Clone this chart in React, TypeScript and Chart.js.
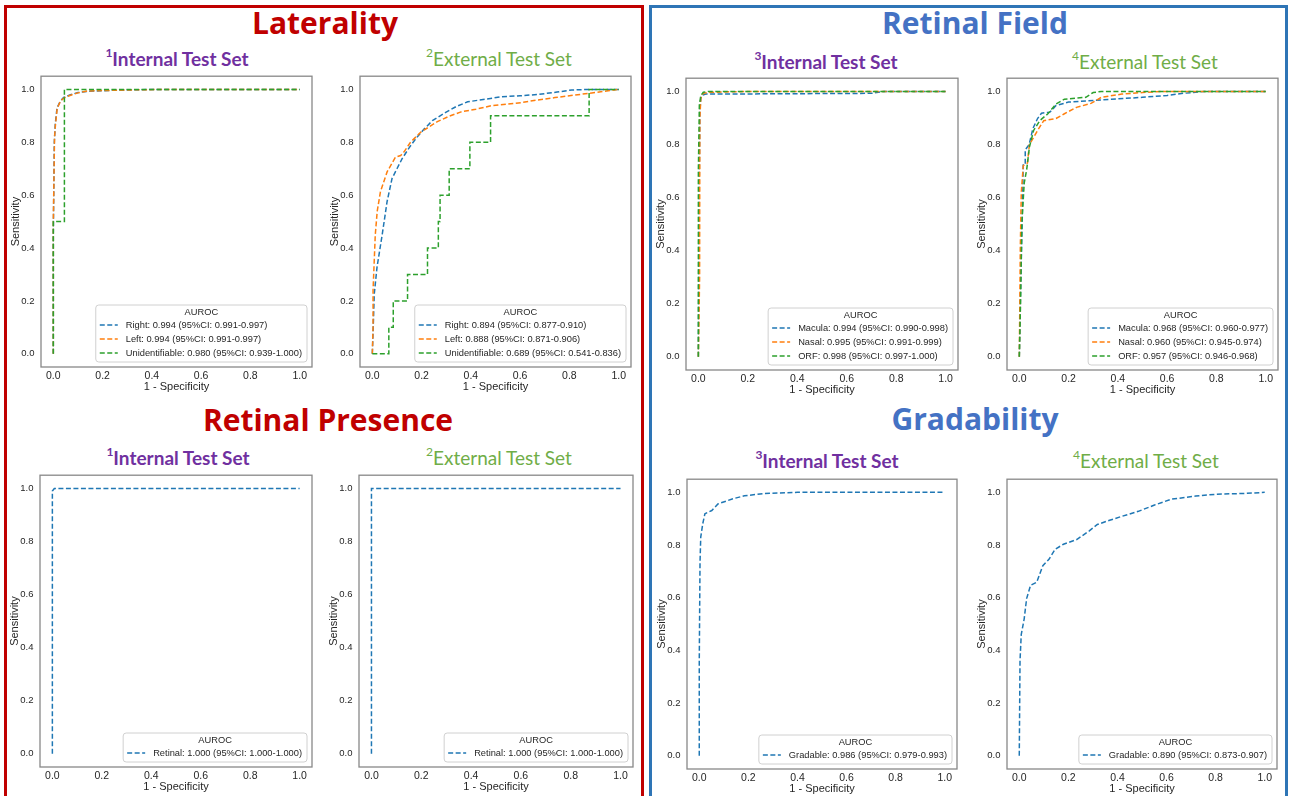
import React, { useEffect, useRef } from 'react';
import { Chart, registerables } from 'chart.js';

Chart.register(...registerables);

// ---------- shared text / ticks ----------
const TICKS = [0, 0.2, 0.4, 0.6, 0.8, 1.0];
const X_TITLE = '1 - Specificity';
const Y_TITLE = 'Sensitivity';
const LEGEND_TITLE = 'AUROC';
const COLORS = ['#1f77b4', '#ff7f0e', '#2ca02c'];

// ---------- Laterality, internal ----------
const latIntLabels = [
  'Right: 0.994 (95%CI: 0.991-0.997)',
  'Left: 0.994 (95%CI: 0.991-0.997)',
  'Unidentifiable: 0.980 (95%CI: 0.939-1.000)',
];
const latIntRight = [[0, 0], [0, 0.45], [0.004, 0.8], [0.008, 0.87], [0.015, 0.93], [0.028, 0.955], [0.042, 0.97], [0.07, 0.98], [0.1, 0.988], [0.14, 0.993], [0.25, 0.997], [0.4, 1.0], [1, 1]];
const latIntLeft = [[0, 0], [0, 0.5], [0.005, 0.82], [0.009, 0.87], [0.016, 0.93], [0.03, 0.957], [0.045, 0.969], [0.076, 0.98], [0.1, 0.987], [0.137, 0.994], [0.3, 0.998], [0.45, 1.0], [1, 1]];
const latIntUnid = [[0, 0], [0, 0.5], [0.045, 0.5], [0.045, 1.0], [1, 1]];

// ---------- Laterality, external ----------
const latExtLabels = [
  'Right: 0.894 (95%CI: 0.877-0.910)',
  'Left: 0.888 (95%CI: 0.871-0.906)',
  'Unidentifiable: 0.689 (95%CI: 0.541-0.836)',
];
const latExtRight = [[0, 0], [0.003, 0.08], [0.008, 0.227], [0.019, 0.327], [0.04, 0.45], [0.06, 0.576], [0.08, 0.663], [0.1, 0.7], [0.121, 0.738], [0.15, 0.78], [0.176, 0.813], [0.21, 0.85], [0.244, 0.882], [0.298, 0.913], [0.34, 0.935], [0.387, 0.953], [0.45, 0.962], [0.523, 0.972], [0.6, 0.976], [0.673, 0.981], [0.75, 0.99], [0.81, 0.998], [0.88, 1.0], [1, 1]];
const latExtLeft = [[0, 0], [0.003, 0.1], [0.003, 0.24], [0.012, 0.45], [0.02, 0.54], [0.033, 0.613], [0.06, 0.688], [0.094, 0.744], [0.115, 0.75], [0.128, 0.763], [0.155, 0.8], [0.196, 0.838], [0.264, 0.878], [0.31, 0.898], [0.36, 0.915], [0.42, 0.925], [0.482, 0.938], [0.605, 0.95], [0.67, 0.96], [0.741, 0.969], [0.877, 0.985], [1, 1]];
const latExtUnid = [[0, 0], [0.067, 0], [0.067, 0.1], [0.085, 0.1], [0.085, 0.2], [0.143, 0.2], [0.143, 0.3], [0.224, 0.3], [0.224, 0.4], [0.268, 0.4], [0.268, 0.5], [0.275, 0.5], [0.275, 0.6], [0.312, 0.6], [0.312, 0.7], [0.396, 0.7], [0.396, 0.8], [0.48, 0.8], [0.48, 0.9], [0.88, 0.9], [0.88, 1.0], [1, 1]];

// ---------- Retinal Field, internal ----------
const rfIntLabels = [
  'Macula: 0.994 (95%CI: 0.990-0.998)',
  'Nasal: 0.995 (95%CI: 0.991-0.999)',
  'ORF: 0.998 (95%CI: 0.997-1.000)',
];
const rfIntMacula = [[0, 0], [0.002, 0.5], [0.006, 0.92], [0.01, 0.975], [0.015, 0.986], [0.03, 0.99], [0.7, 0.993], [0.75, 1.0], [1, 1]];
const rfIntNasal = [[0, 0], [0.005, 0.3], [0.006, 0.9], [0.01, 0.975], [0.02, 0.993], [0.05, 0.997], [0.2, 1.0], [1, 1]];
const rfIntORF = [[0, 0], [0, 0.7], [0.004, 0.95], [0.01, 0.985], [0.02, 0.997], [0.04, 1.0], [1, 1]];

// ---------- Retinal Field, external ----------
const rfExtLabels = [
  'Macula: 0.968 (95%CI: 0.960-0.977)',
  'Nasal: 0.960 (95%CI: 0.945-0.974)',
  'ORF: 0.957 (95%CI: 0.946-0.968)',
];
const rfExtMacula = [[0, 0], [0.004, 0.2], [0.008, 0.36], [0.012, 0.52], [0.016, 0.73], [0.024, 0.73], [0.024, 0.78], [0.04, 0.8], [0.055, 0.86], [0.074, 0.898], [0.09, 0.918], [0.124, 0.922], [0.149, 0.947], [0.2, 0.96], [0.333, 0.968], [0.5, 0.978], [0.6, 0.985], [0.666, 0.993], [0.75, 1.0], [1, 1]];
const rfExtNasal = [[0, 0], [0.002, 0.2], [0.004, 0.41], [0.008, 0.62], [0.016, 0.72], [0.033, 0.73], [0.041, 0.8], [0.06, 0.83], [0.074, 0.853], [0.099, 0.89], [0.149, 0.898], [0.183, 0.916], [0.232, 0.94], [0.291, 0.955], [0.333, 0.978], [0.416, 0.99], [0.5, 0.996], [0.58, 1.0], [1, 1]];
const rfExtORF = [[0, 0], [0.005, 0.2], [0.01, 0.5], [0.02, 0.655], [0.03, 0.706], [0.041, 0.79], [0.058, 0.853], [0.083, 0.89], [0.116, 0.916], [0.149, 0.953], [0.183, 0.971], [0.27, 0.978], [0.3, 0.996], [0.333, 1.0], [1, 1]];

// ---------- Retinal Presence ----------
const rpLabels = ['Retinal: 1.000 (95%CI: 1.000-1.000)'];
const rpIntRetinal = [[0, 0], [0, 0.99], [0.008, 1.0], [1, 1]];
const rpExtRetinal = [[0, 0], [0, 1.0], [1, 1]];

// ---------- Gradability ----------
const gIntLabels = ['Gradable: 0.986 (95%CI: 0.979-0.993)'];
const gExtLabels = ['Gradable: 0.890 (95%CI: 0.873-0.907)'];
const gIntGradable = [[0, 0], [0, 0.36], [0.003, 0.732], [0.006, 0.83], [0.014, 0.88], [0.023, 0.919], [0.051, 0.931], [0.076, 0.956], [0.134, 0.975], [0.184, 0.987], [0.267, 0.996], [0.4, 1.0], [1, 1]];
const gExtGradable = [[0, 0], [0.003, 0.36], [0.008, 0.46], [0.02, 0.52], [0.03, 0.597], [0.046, 0.647], [0.071, 0.659], [0.096, 0.722], [0.121, 0.746], [0.146, 0.784], [0.18, 0.803], [0.234, 0.821], [0.284, 0.853], [0.318, 0.878], [0.368, 0.894], [0.418, 0.909], [0.485, 0.928], [0.551, 0.952], [0.619, 0.974], [0.719, 0.986], [0.803, 0.993], [0.92, 0.996], [1, 1]];

// ---------- headings ----------
const PANEL_TITLES = ['Laterality', 'Retinal Field', 'Retinal Presence', 'Gradability'];
const SUB_INTERNAL = 'Internal Test Set';
const SUB_EXTERNAL = 'External Test Set';

// ---------- layout (positions only) ----------
const FONT_AX = '"Liberation Sans", Arial, sans-serif';
const TEXT_COLOR = '#262626';
const PAD_L = 40;
const PAD_T = 8;
const PAD_R = 8;
const PAD_B = 30;

type Plot = { frame: number[]; series: number[][][]; labels: string[] };

const PLOTS: Plot[] = [
  { frame: [41, 72, 271, 295], series: [latIntRight, latIntLeft, latIntUnid], labels: latIntLabels },
  { frame: [360, 72, 271, 295], series: [latExtRight, latExtLeft, latExtUnid], labels: latExtLabels },
  { frame: [686, 74, 272, 296], series: [rfIntMacula, rfIntNasal, rfIntORF], labels: rfIntLabels },
  { frame: [1007, 74, 271, 296], series: [rfExtMacula, rfExtNasal, rfExtORF], labels: rfExtLabels },
  { frame: [40, 471, 272, 296], series: [rpIntRetinal], labels: rpLabels },
  { frame: [359, 471, 274, 296], series: [rpExtRetinal], labels: rpLabels },
  { frame: [687, 475, 270, 294], series: [gIntGradable], labels: gIntLabels },
  { frame: [1007, 475, 270, 294], series: [gExtGradable], labels: gExtLabels },
];

const framePlugin = {
  id: 'axFrame',
  afterDatasetsDraw(chart: any) {
    const { ctx, chartArea: a } = chart;
    ctx.save();
    ctx.strokeStyle = '#888888';
    ctx.lineWidth = 1.3;
    ctx.strokeRect(a.left, a.top, a.right - a.left, a.bottom - a.top);
    ctx.restore();
  },
};

const legendPlugin = {
  id: 'rocLegend',
  afterDraw(chart: any) {
    const { ctx, chartArea: a } = chart;
    const ds = chart.data.datasets;
    ctx.save();
    ctx.font = `9.3px ${FONT_AX}`;
    const textW = Math.max(...ds.map((d: any) => ctx.measureText(d.label).width));
    const w = 4 + 18 + 8 + textW + 5;
    const rowH = 14;
    const h = 20 + (ds.length - 1) * rowH + 9;
    const right = a.right - 5;
    const bottom = a.bottom - 5;
    const left = right - w;
    const top = bottom - h;
    ctx.beginPath();
    if (ctx.roundRect) ctx.roundRect(left, top, w, h, 3);
    else ctx.rect(left, top, w, h);
    ctx.fillStyle = 'rgba(255,255,255,0.85)';
    ctx.fill();
    ctx.strokeStyle = '#d0d0d0';
    ctx.lineWidth = 1;
    ctx.stroke();
    ctx.fillStyle = TEXT_COLOR;
    ctx.textBaseline = 'middle';
    ctx.textAlign = 'center';
    ctx.fillText(LEGEND_TITLE, left + w / 2, top + 7.5);
    ds.forEach((d: any, i: number) => {
      const y = top + 20 + i * rowH;
      ctx.beginPath();
      ctx.setLineDash([5, 2.5]);
      ctx.strokeStyle = d.borderColor;
      ctx.lineWidth = 1.5;
      ctx.moveTo(left + 4, y);
      ctx.lineTo(left + 22, y);
      ctx.stroke();
      ctx.setLineDash([]);
      ctx.fillStyle = TEXT_COLOR;
      ctx.textAlign = 'left';
      ctx.fillText(d.label, left + 30, y);
    });
    ctx.restore();
  },
};

function RocPlot({ plot }: { plot: Plot }) {
  const ref = useRef<HTMLCanvasElement | null>(null);
  const [fl, ft, fw, fh] = plot.frame;
  const cw = fw + PAD_L + PAD_R;
  const ch = fh + PAD_T + PAD_B;

  useEffect(() => {
    if (!ref.current) return;
    const n = plot.series.length;
    const xTickFont = { family: FONT_AX, size: 10.5 };
    const yTickFont = { family: FONT_AX, size: 9.5 };
    const titleFont = { family: FONT_AX, size: 11 };
    const chart = new Chart(ref.current, {
      type: 'line',
      data: {
        datasets: plot.series.map((pts, i) => ({
          label: plot.labels[i],
          data: pts.map(([x, y]) => ({ x, y })),
          borderColor: COLORS[i],
          backgroundColor: COLORS[i],
          borderWidth: 1.5,
          borderDash: [5, 2.5],
          pointRadius: 0,
          tension: 0,
          fill: false,
          order: n - 1 - i,
        })),
      },
      options: {
        responsive: false,
        animation: false,
        devicePixelRatio: 1,
        layout: { padding: { top: PAD_T, right: PAD_R, left: 0, bottom: 0 } },
        plugins: { legend: { display: false }, tooltip: { enabled: false }, title: { display: false } },
        scales: {
          x: {
            type: 'linear',
            min: -0.05,
            max: 1.05,
            afterBuildTicks: (s: any) => { s.ticks = TICKS.map((v) => ({ value: v })); },
            afterFit: (s: any) => { s.height = PAD_B; },
            grid: { display: false, drawTicks: false },
            border: { display: false },
            ticks: { padding: 3, font: xTickFont, color: TEXT_COLOR, maxRotation: 0, autoSkip: false, callback: (v: any) => Number(v).toFixed(1) },
            title: { display: true, text: X_TITLE, font: titleFont, color: TEXT_COLOR, padding: { top: 0, bottom: 3 } },
          },
          y: {
            type: 'linear',
            min: -0.05,
            max: 1.05,
            afterBuildTicks: (s: any) => { s.ticks = TICKS.map((v) => ({ value: v })); },
            afterFit: (s: any) => { s.width = PAD_L; },
            grid: { display: false, drawTicks: false },
            border: { display: false },
            ticks: { padding: 6.5, font: yTickFont, color: TEXT_COLOR, autoSkip: false, callback: (v: any) => Number(v).toFixed(1) },
            title: { display: true, text: Y_TITLE, font: titleFont, color: TEXT_COLOR, padding: { top: 8, bottom: 0 } },
          },
        },
      },
      plugins: [framePlugin, legendPlugin],
    } as any);
    return () => chart.destroy();
  }, [plot]);

  return (
    <canvas
      ref={ref}
      width={cw}
      height={ch}
      style={{ position: 'absolute', left: fl - PAD_L, top: ft - PAD_T, width: cw, height: ch }}
    />
  );
}

const TITLE_FONT = '"Open Sans", Lato, sans-serif';
const SUB_FONT = 'Lato, "Open Sans", sans-serif';

function Heading({ x, y, text, color }: { x: number; y: number; text: string; color: string }) {
  return (
    <div style={{ position: 'absolute', left: x, top: y, transform: 'translate(-50%, -50%)', whiteSpace: 'nowrap', fontFamily: TITLE_FONT, fontWeight: 700, fontSize: 30, color, lineHeight: 1 }}>
      {text}
    </div>
  );
}

function SubHeading({ x, y, num, text, internal }: { x: number; y: number; num: string; text: string; internal: boolean }) {
  return (
    <div style={{ position: 'absolute', left: x, top: y, transform: 'translate(-50%, -50%)', whiteSpace: 'nowrap', fontFamily: SUB_FONT, fontWeight: internal ? 700 : 400, fontSize: 19, color: internal ? '#7030A0' : '#70AD47', lineHeight: 1 }}>
      <span style={{ fontSize: 12, verticalAlign: 'top', position: 'relative', top: -2 }}>{num}</span>
      {text}
    </div>
  );
}

export default function App() {
  const subs = [
    { x: 177, y: 58, num: '1', internal: true },
    { x: 499, y: 58, num: '2', internal: false },
    { x: 826, y: 61, num: '3', internal: true },
    { x: 1145, y: 61, num: '4', internal: false },
    { x: 178, y: 457, num: '1', internal: true },
    { x: 499, y: 457, num: '2', internal: false },
    { x: 827, y: 460, num: '3', internal: true },
    { x: 1146, y: 460, num: '4', internal: false },
  ];
  return (
    <div style={{ position: 'absolute', left: 0, top: 0, width: 1290, height: 796, overflow: 'hidden', background: '#ffffff' }}>
      <div style={{ position: 'absolute', left: 4, top: 5, width: 634, height: 800, border: '3px solid #C00000' }} />
      <div style={{ position: 'absolute', left: 649, top: 5, width: 633, height: 800, border: '3px solid #2E75B6' }} />
      <Heading x={325} y={22.5} text={PANEL_TITLES[0]} color="#C00000" />
      <Heading x={975} y={22.5} text={PANEL_TITLES[1]} color="#4472C4" />
      <Heading x={328} y={419.5} text={PANEL_TITLES[2]} color="#C00000" />
      <Heading x={975} y={418.5} text={PANEL_TITLES[3]} color="#4472C4" />
      {subs.map((s, i) => (
        <SubHeading key={i} x={s.x} y={s.y} num={s.num} text={s.internal ? SUB_INTERNAL : SUB_EXTERNAL} internal={s.internal} />
      ))}
      {PLOTS.map((p, i) => (
        <RocPlot key={i} plot={p} />
      ))}
    </div>
  );
}
